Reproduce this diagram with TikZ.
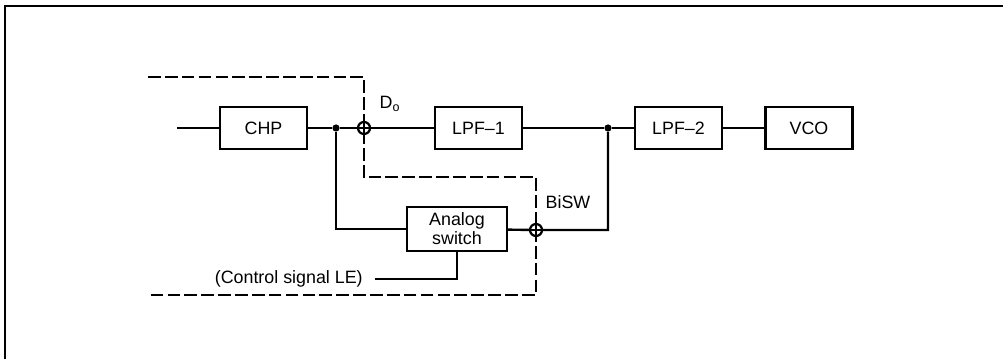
\documentclass[tikz,border=0pt]{standalone}
\usepackage{fontspec}
\setmainfont{Liberation Sans}
\usetikzlibrary{positioning}

\begin{document}
\begin{tikzpicture}[
  x=0.025cm, y=-0.025cm,
  font=\fontsize{12.7}{13.5}\selectfont,
  block/.style={draw, line width=1.7pt, minimum height=1.05cm, minimum width=2.175cm, align=center, inner sep=1pt},
  wire/.style={line width=1.7pt},
  border/.style={line width=1.7pt, dash pattern=on 9pt off 3pt},
  xing/.style={circle, draw, line width=1.6pt, minimum size=0.3cm, inner sep=0pt,
    path picture={\draw[line width=1.4pt] (path picture bounding box.north) -- (path picture bounding box.south)
      (path picture bounding box.west) -- (path picture bounding box.east);}},
  dot/.style={circle, fill, minimum size=0.18cm, inner sep=0pt}
]
\useasboundingbox (0,0) rectangle (1003,359);
\draw[line width=2pt] (1003,6) -- (5,6) -- (5,359);

\coordinate (in) at (177,128);
\node[block] (chp) at (263.5,128) {CHP};
\node[dot] (d1) at (336,128) {};
\node[xing] (do) at (364,128) {};
\node[block] (lpf1) at (478.5,128) {LPF–1};
\node[dot] (d2) at (608,128) {};
\node[block] (lpf2) at (678.5,128) {LPF–2};
\node[block] (vco) at (809,128) {VCO};
\node[block, minimum width=2.5cm, minimum height=1.1cm] (asw) at (457,229) {Analog\\switch};
\node[xing] (bisw) at (536,230) {};
\node[anchor=east, inner xsep=0.3cm] (ctl) at (375,279) {(Control signal LE)};
\node (dolbl) at (390,104) {D\textsubscript{o}};
\node (bislbl) at (568,202) {BiSW};

\draw[border] (148,77) -| (do.center) -- (364,177) -| (bisw.center) -- (536,295) -- (148,295);

\draw[wire] (in) -- (chp);
\draw[wire] (chp) -- (d1) -- (do) -- (lpf1);
\draw[wire] (lpf1) -- (d2) -- (lpf2);
\draw[wire] (lpf2) -- (vco);
\draw[wire] (d1) |- (asw);
\draw[wire] (asw) -- (bisw) -| (d2);
\draw[wire] (asw) |- (ctl);
\end{tikzpicture}
\end{document}
